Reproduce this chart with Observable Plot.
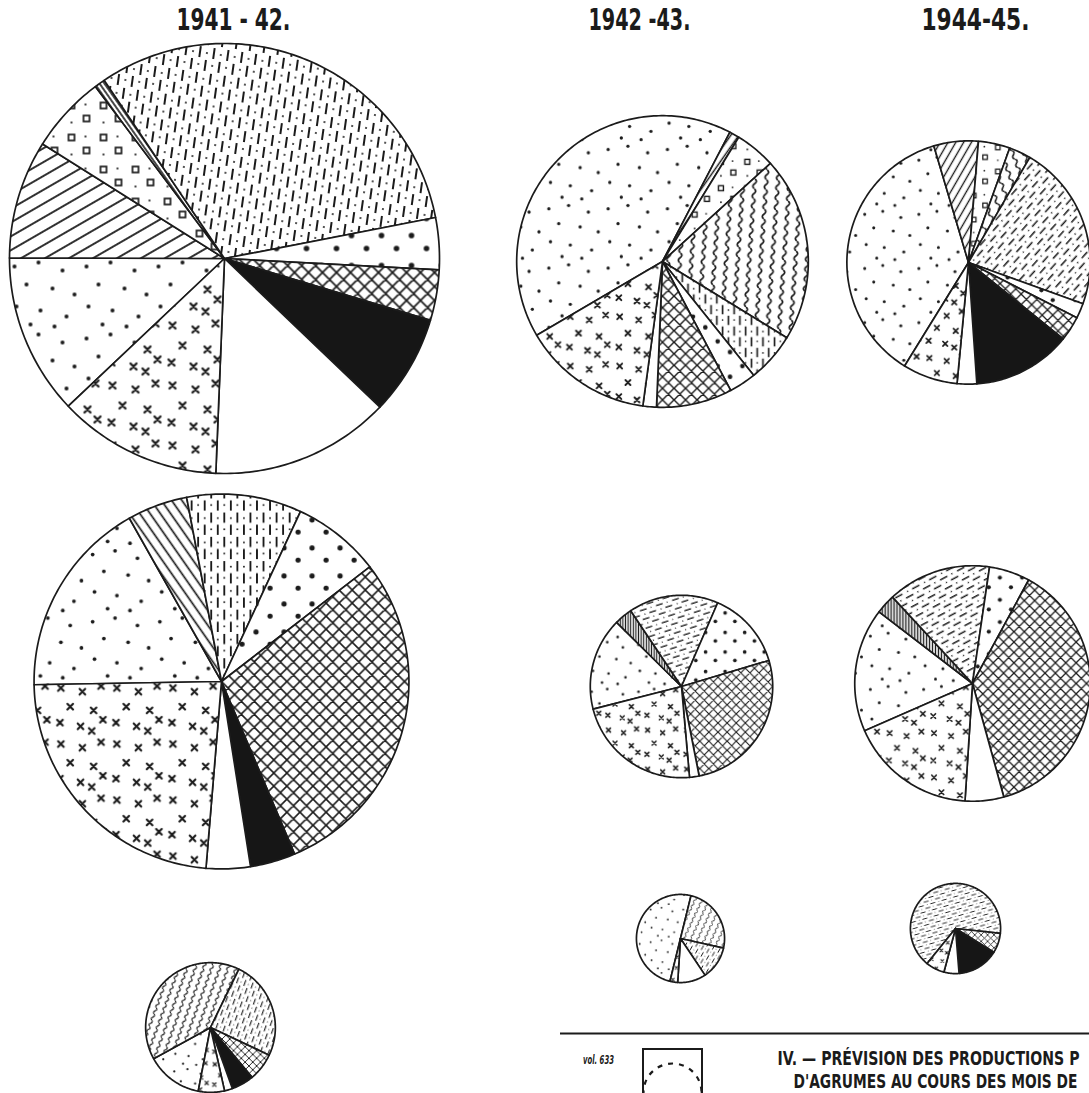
<!DOCTYPE html>
<html><head><meta charset="utf-8">
<script src="https://cdn.jsdelivr.net/npm/d3@7"></script>
<script src="https://cdn.jsdelivr.net/npm/@observablehq/plot@0.6"></script>
<style>
html,body{margin:0;padding:0;background:#fff;}
#defs{position:absolute;left:0;top:0;width:0;height:0;}
#chart svg{display:block;}
</style></head><body>
<svg id="defs" width="0" height="0"><defs id="patterns"></defs></svg>
<div id="chart"></div>
<script>
// ---------- DATA ----------
// Categories, in clockwise drawing order (shown as hatching patterns)
const categories = ["finedots","hatch","squares","sliver","wavy","dashdot","bigdots","crosshatch","black","white","crosses"];
const seasons = ["1941 - 42.", "1942 -43.", "1944-45."];
const captionLines = ["IV. — PRÉVISION DES PRODUCTIONS P", "D'AGRUMES AU COURS DES MOIS DE"];
const volumeLabel = ["vol. 633"];

// Shares (% of each pie), same order as categories
const shares1941Top = [12.1, 8.9, 5.8, 0.8, 0, 31.4, 3.9, 3.8, 7.5, 13.5, 12.3];
const shares1942Top = [41.1, 1.1, 4.5, 0, 20.5, 5.5, 3.0, 8.4, 0, 1.5, 14.4];
const shares1944Top = [36.6, 5.9, 4.2, 0, 2.9, 22.1, 2.0, 3.3, 13.1, 2.6, 7.3];
const shares1941Mid = [17.1, 5.2, 0, 0, 0, 9.9, 7.6, 29.1, 3.9, 3.8, 23.4];
const shares1942Mid = [16.4, 3.2, 0, 0, 0, 15.9, 13.9, 26.5, 0, 1.7, 22.4];
const shares1944Mid = [17.0, 2.7, 0, 0, 0, 14.2, 5.6, 37.8, 0, 5.3, 17.4];
const shares1941Low = [14.0, 0, 0, 0, 40.2, 24.8, 0, 6.9, 5.6, 2.0, 6.5];
const shares1942Low = [50.0, 0, 0, 0, 24.7, 12.1, 0, 0, 0, 10.4, 2.8];
const shares1944Low = [0, 0, 0, 0, 0, 65.9, 0, 7.1, 14.9, 5.4, 6.7];

// Relative total production (pie area), largest = 100
const totalsTop = [100, 46, 32];
const totalsMid = [76, 18, 30];
const totalsLow = [9.1, 4.2, 4.4];

// ---------- LAYOUT (positions & pattern styling) ----------
const layout = [
  {key:"t0", cx:224, cy:258, start:226.6, hatch:-30, hatchSp:12, dash:8,  wavy:0,  sliver:55},
  {key:"t1", cx:662, cy:261, start:239.6, hatch:-55, hatchSp:8,  dash:0,  wavy:4,  sliver:55},
  {key:"t2", cx:968, cy:262, start:211.7, hatch:-60, hatchSp:9,  dash:42, wavy:-20,sliver:55},
  {key:"m0", cx:221, cy:681, start:269.0, hatch:55,  hatchSp:9,  dash:0,  wavy:0,  sliver:55},
  {key:"m1", cx:681, cy:686, start:255.6, hatch:90,  hatchSp:4,  dash:72, wavy:0,  sliver:55},
  {key:"m2", cx:972, cy:683, start:246.3, hatch:90,  hatchSp:4,  dash:62, wavy:0,  sliver:55},
  {key:"l0", cx:210, cy:1027,start:190.9, hatch:-40, hatchSp:8,  dash:20, wavy:20, sliver:55},
  {key:"l1", cx:680, cy:938, start:193.8, hatch:-40, hatchSp:8,  dash:30, wavy:25, sliver:55},
  {key:"l2", cx:955, cy:928, start:219.0, hatch:-40, hatchSp:8,  dash:74, wavy:0,  sliver:55}
];
const titleX = [233, 639, 975];
const textWidths = new Map([
  [seasons[0], 114], [seasons[1], 102], [seasons[2], 108],
  [captionLines[0], 302], [captionLines[1], 284], [volumeLabel[0], 31]
]);

const sharesByPie = [shares1941Top, shares1942Top, shares1944Top,
                     shares1941Mid, shares1942Mid, shares1944Mid,
                     shares1941Low, shares1942Low, shares1944Low];
const totalsByPie = [...totalsTop, ...totalsMid, ...totalsLow];
const rScale = d3.scaleSqrt().domain([0, 100]).range([0, 215]);

const pies = layout.map((L, i) => ({...L, shares: sharesByPie[i], r: rScale(totalsByPie[i])}));

// ---------- PATTERNS ----------
const defs = d3.select("#patterns");
const INK = "#1b1b1b";
function pattern(id, w, h, transform, draw) {
  const p = defs.append("pattern").attr("id", id)
    .attr("patternUnits", "userSpaceOnUse")
    .attr("width", w).attr("height", h)
    .attr("patternTransform", transform);
  p.append("rect").attr("width", w).attr("height", h).attr("fill", "#fff");
  draw(p);
}
const fineDotPos = [[6,8],[30,4],[54,12],[18,26],[44,30],[66,36],[8,48],[32,52],[58,58],[22,66],[46,68]];
const crossPos = [[8,7],[31,11],[51,5],[18,27],[43,31],[7,44],[29,48],[53,41],[41,53]];
pies.forEach(p => {
  const s = Math.sqrt(p.r / 215);
  const base = `translate(${p.cx},${p.cy}) scale(${s})`;
  pattern(`pat-${p.key}-finedots`, 72, 72, base, g => {
    fineDotPos.forEach(([x,y]) => g.append("circle").attr("cx",x).attr("cy",y).attr("r",2).attr("fill",INK));
  });
  pattern(`pat-${p.key}-crosses`, 60, 60, base, g => {
    crossPos.forEach(([x,y]) => g.append("path")
      .attr("d", `M${x-3},${y-3}L${x+3},${y+3}M${x+3},${y-3}L${x-3},${y+3}`)
      .attr("stroke", INK).attr("stroke-width", 2.3).attr("fill","none").attr("stroke-linecap","round"));
  });
  pattern(`pat-${p.key}-bigdots`, 30, 30, base, g => {
    [[7,7],[22,20]].forEach(([x,y]) => g.append("circle").attr("cx",x).attr("cy",y).attr("r",2.8).attr("fill",INK));
  });
  pattern(`pat-${p.key}-squares`, 32, 32, base, g => {
    [[4,4],[19,17]].forEach(([x,y]) => g.append("rect").attr("x",x).attr("y",y).attr("width",6).attr("height",6)
      .attr("fill","none").attr("stroke",INK).attr("stroke-width",1.7));
    [[21,6],[7,24]].forEach(([x,y]) => g.append("circle").attr("cx",x).attr("cy",y).attr("r",1.1).attr("fill",INK));
  });
  pattern(`pat-${p.key}-dashdot`, 14, 26, `${base} rotate(${p.dash})`, g => {
    g.append("path").attr("d","M3,1L3,12M10,14L10,25").attr("stroke",INK).attr("stroke-width",2);
    [[3,19],[10,7]].forEach(([x,y]) => g.append("circle").attr("cx",x).attr("cy",y).attr("r",1).attr("fill",INK));
  });
  pattern(`pat-${p.key}-hatch`, 10, p.hatchSp, `${base} rotate(${p.hatch})`, g => {
    g.append("rect").attr("x",0).attr("y",(p.hatchSp-1.8)/2).attr("width",10).attr("height",1.8).attr("fill",INK);
  });
  pattern(`pat-${p.key}-sliver`, 10, 4, `${base} rotate(${p.sliver})`, g => {
    g.append("rect").attr("x",0).attr("y",1.2).attr("width",10).attr("height",1.6).attr("fill",INK);
  });
  pattern(`pat-${p.key}-wavy`, 14, 12, `${base} rotate(${p.wavy})`, g => {
    g.append("path").attr("d","M7,0Q11,3 7,6Q3,9 7,12").attr("stroke",INK).attr("stroke-width",2).attr("fill","none");
  });
  pattern(`pat-${p.key}-crosshatch`, 14, 14, base, g => {
    g.append("path").attr("d","M0,0L14,14M14,0L0,14M-2,12L2,16M12,-2L16,2M-2,2L2,-2M12,16L16,12")
      .attr("stroke",INK).attr("stroke-width",1.7).attr("fill","none");
  });
});

// ---------- WEDGE GEOMETRY (from shares) ----------
const rows = [];
pies.forEach(p => {
  let a = p.start;
  categories.forEach((c, k) => {
    const v = p.shares[k];
    if (!v) return;
    const a0 = a, a1 = a + v * 3.6; a = a1;
    const id = `${p.key}-${c}`;
    const fill = c === "black" ? "#161616" : c === "white" ? "#ffffff" : `url(#pat-${p.key}-${c})`;
    const n = Math.max(2, Math.ceil(a1 - a0));
    rows.push({id, fill, px: p.cx, py: p.cy});
    for (let i = 0; i <= n; i++) {
      const t = (a0 + (a1 - a0) * i / n) * Math.PI / 180;
      rows.push({id, fill, px: p.cx + p.r * Math.sin(t), py: p.cy - p.r * Math.cos(t)});
    }
    rows.push({id, fill, px: p.cx, py: p.cy});
  });
});

const FONT = "'DejaVu Sans',sans-serif";

const chart = Plot.plot({
  width: 1089, height: 1093, margin: 0,
  x: {domain: [0, 1089], range: [0, 1089], axis: null},
  y: {domain: [0, 1093], range: [0, 1093], axis: null},
  color: {type: "identity"},
  style: {background: "#fff"},
  marks: [
    Plot.line(rows, {x: "px", y: "py", z: "id", fill: "fill", stroke: INK, strokeWidth: 1.7, strokeLinejoin: "round", curve: "linear"}),
    Plot.text(seasons, {x: (d, i) => titleX[i], y: () => 20, text: d => d, fontSize: 30, fontWeight: "bold", fontFamily: FONT, fill: INK, textAnchor: "middle"}),
    // legend block
    Plot.ruleY([1033], {x1: 560, x2: 1089, stroke: INK, strokeWidth: 2}),
    Plot.rect([0], {x1: 643, x2: 702, y1: 1049, y2: 1110, fill: "none", stroke: INK, strokeWidth: 2}),
    Plot.dot([0], {x: 672, y: 1092, r: 29, fill: "none", stroke: INK, strokeWidth: 2.2, strokeDasharray: "5,6"}),
    Plot.text(volumeLabel, {x: 598, y: 1060, text: d => d, fontSize: 12, fontWeight: "bold", fontStyle: "italic", fontFamily: FONT, fill: INK, textAnchor: "middle"}),
    Plot.text(captionLines, {x: (d, i) => [777, 793][i], y: (d, i) => [1058, 1081][i], text: d => d, fontSize: 19, fontWeight: "bold", fontFamily: FONT, fill: INK, textAnchor: "start"})
  ]
});
// condense the lettering to the reference widths
d3.select(chart).selectAll("text").each(function() {
  const w = textWidths.get(this.textContent);
  if (w) d3.select(this).attr("textLength", w).attr("lengthAdjust", "spacingAndGlyphs");
});
document.getElementById("chart").appendChild(chart);
</script></body></html>
